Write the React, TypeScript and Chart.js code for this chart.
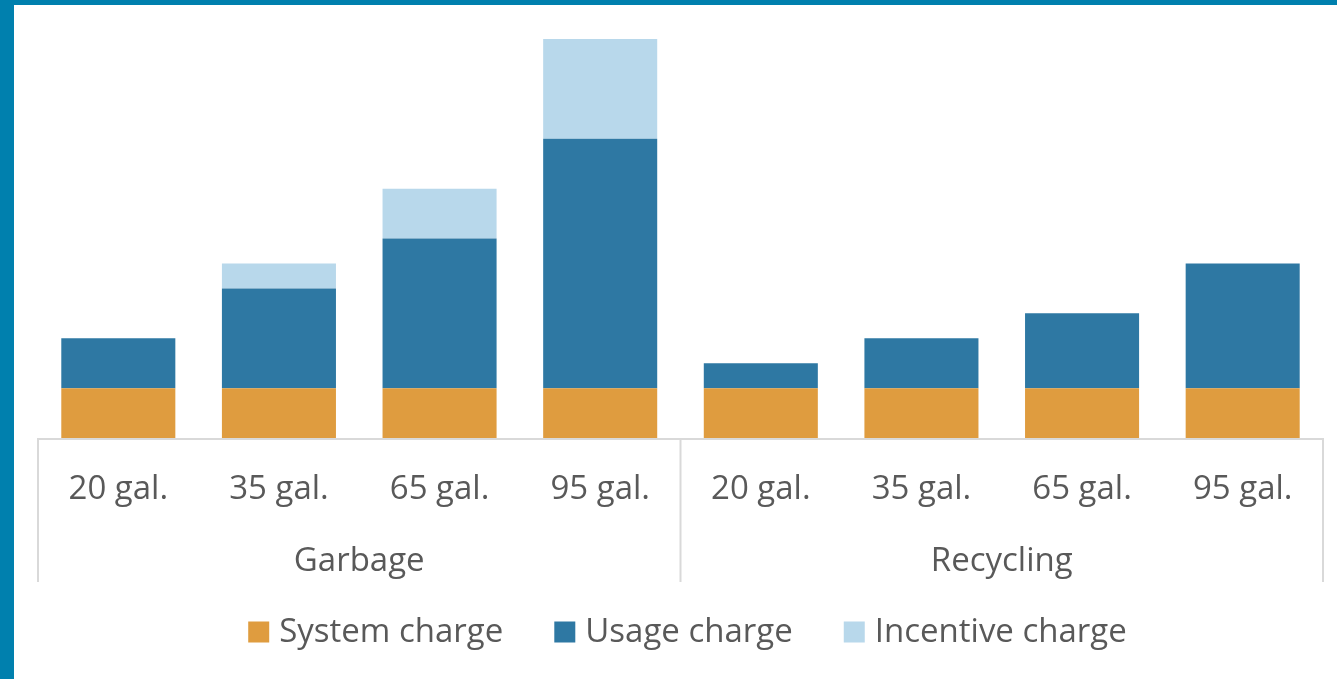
import React, { useEffect, useRef } from "react";
import { Chart, registerables } from "chart.js";

Chart.register(...registerables);

const groups = ["Garbage", "Recycling"];
const sizes = ["20 gal.", "35 gal.", "65 gal.", "95 gal."];
const categories = ["Garbage 20 gal.", "Garbage 35 gal.", "Garbage 65 gal.", "Garbage 95 gal.", "Recycling 20 gal.", "Recycling 35 gal.", "Recycling 65 gal.", "Recycling 95 gal."];
const systemCharge = [1, 1, 1, 1, 1, 1, 1, 1];
const usageCharge = [1, 2, 3, 5, 0.5, 1, 1.5, 2.5];
const incentiveCharge = [0, 0.5, 1, 2, 0, 0, 0, 0];
const seriesNames = ["System charge", "Usage charge", "Incentive charge"];

const COLORS = ["#DF9C3F", "#2E78A3", "#B8D8EB"];
const FONT = "'Open Sans', 'Noto Sans', sans-serif";
const TEXT = "#595959";
const AXIS = "#D9D9D9";

const drawPlugin = {
  id: "customAxis",
  afterDraw(chart: any) {
    const ctx = chart.ctx;
    const x = chart.scales.x;
    const area = chart.chartArea;
    const n = categories.length;
    const step = x.getPixelForValue(1) - x.getPixelForValue(0);
    const left = x.getPixelForValue(0) - step / 2;
    const right = x.getPixelForValue(n - 1) + step / 2;
    const mid = x.getPixelForValue(3) + step / 2;
    const base = area.bottom;
    ctx.save();
    ctx.strokeStyle = AXIS;
    ctx.lineWidth = 2;
    ctx.beginPath();
    ctx.moveTo(left, base + 1);
    ctx.lineTo(right, base + 1);
    [left, mid, right].forEach((px) => {
      ctx.moveTo(px, base);
      ctx.lineTo(px, base + 144);
    });
    ctx.stroke();

    ctx.fillStyle = TEXT;
    ctx.font = `33px ${FONT}`;
    ctx.textAlign = "center";
    ctx.textBaseline = "middle";
    for (let i = 0; i < n; i++) {
      ctx.fillText(sizes[i % sizes.length], x.getPixelForValue(i), base + 52);
    }
    groups.forEach((g, gi) => {
      const c = gi === 0 ? (left + mid) / 2 : (mid + right) / 2;
      ctx.fillText(g, c, base + 124);
    });

    // legend
    const box = 21;
    const gap = 10;
    const itemGap = 51;
    ctx.textAlign = "left";
    const widths = seriesNames.map((s) => box + gap + ctx.measureText(s).width);
    const total = widths.reduce((a, b) => a + b, 0) + itemGap * (widths.length - 1);
    let cx = (left + right) / 2 + 7 - total / 2;
    const ly = base + 195;
    chart.data.datasets.forEach((ds: any, i: number) => {
      ctx.fillStyle = ds.backgroundColor;
      ctx.fillRect(cx, ly - box / 2 - 1, box, box);
      ctx.fillStyle = TEXT;
      ctx.fillText(ds.label, cx + box + gap, ly);
      cx += widths[i] + itemGap;
    });
    ctx.restore();
  },
};

export default function App() {
  const ref = useRef<HTMLCanvasElement>(null);
  useEffect(() => {
    document.body.style.margin = "0";
    const chart = new Chart(ref.current!, {
      type: "bar",
      data: {
        labels: categories,
        datasets: [
          { label: seriesNames[0], data: systemCharge, backgroundColor: COLORS[0] },
          { label: seriesNames[1], data: usageCharge, backgroundColor: COLORS[1] },
          { label: seriesNames[2], data: incentiveCharge, backgroundColor: COLORS[2] },
        ],
      },
      options: {
        responsive: false,
        animation: false,
        layout: { padding: { left: 38, right: 14, top: 39, bottom: 241 } },
        datasets: { bar: { barPercentage: 0.71, categoryPercentage: 1, borderWidth: 0 } },
        scales: {
          x: { stacked: true, display: false },
          y: { stacked: true, display: false, min: 0, max: 8 },
        },
        plugins: { legend: { display: false }, tooltip: { enabled: false } },
      },
      plugins: [drawPlugin],
    });
    return () => chart.destroy();
  }, []);
  return (
    <div style={{ position: "fixed", left: 0, top: 0, width: 1337, height: 679, background: "#fff", overflow: "hidden" }}>
      <canvas ref={ref} width={1337} height={679} style={{ position: "absolute", left: 0, top: 0 }} />
      <div style={{ position: "absolute", left: 0, top: 0, width: 1337, height: 5, background: "#0080AE" }} />
      <div style={{ position: "absolute", left: 0, top: 0, width: 14, height: 679, background: "#0080AE" }} />
    </div>
  );
}
